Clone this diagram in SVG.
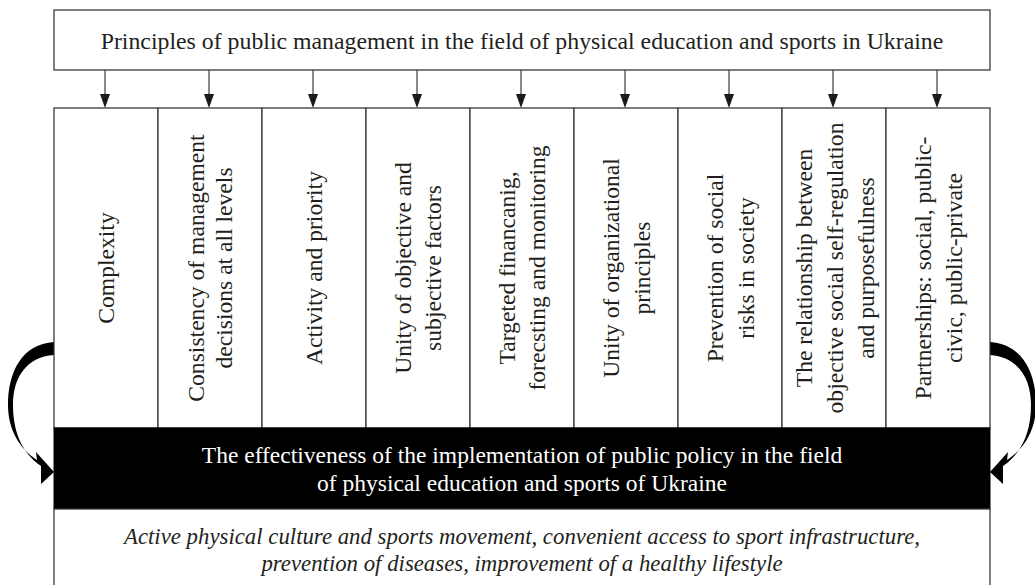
<svg xmlns="http://www.w3.org/2000/svg" width="1035" height="585" viewBox="0 0 1035 585">
<defs>
<style>
.box{fill:#fff;stroke:#3a3a3a;stroke-width:1.3}
.t{font-family:"Liberation Serif","Times New Roman",serif;fill:#231f20}
.title{font-size:23.8px;text-anchor:middle}
.col{font-size:23.6px;text-anchor:middle}
.w{font-family:"Liberation Serif","Times New Roman",serif;fill:#fff;font-size:23.5px;text-anchor:middle}
.it{font-family:"Liberation Serif","Times New Roman",serif;fill:#231f20;font-size:22.8px;font-style:italic;text-anchor:middle}
.conn{stroke:#3a3a3a;stroke-width:1.2;fill:none}
.head{fill:#1a1a1a}
.curve{fill:#000}
</style>
<path id="ah" d="M-5,0 L5,0 L0,14 Z"/>
</defs>
<rect width="1035" height="585" fill="#fff"/>

<g id="top">
<rect class="box" x="54" y="10" width="936" height="60"/>
<text class="t title" x="522" y="49">Principles of public management in the field of physical education and sports in Ukraine</text>
</g>

<g id="connectors">
<line class="conn" x1="105" y1="70" x2="105" y2="95"/><use href="#ah" class="head" x="105" y="94"/>
<line class="conn" x1="209" y1="70" x2="209" y2="95"/><use href="#ah" class="head" x="209" y="94"/>
<line class="conn" x1="313" y1="70" x2="313" y2="95"/><use href="#ah" class="head" x="313" y="94"/>
<line class="conn" x1="417" y1="70" x2="417" y2="95"/><use href="#ah" class="head" x="417" y="94"/>
<line class="conn" x1="521" y1="70" x2="521" y2="95"/><use href="#ah" class="head" x="521" y="94"/>
<line class="conn" x1="625" y1="70" x2="625" y2="95"/><use href="#ah" class="head" x="625" y="94"/>
<line class="conn" x1="729" y1="70" x2="729" y2="95"/><use href="#ah" class="head" x="729" y="94"/>
<line class="conn" x1="833" y1="70" x2="833" y2="95"/><use href="#ah" class="head" x="833" y="94"/>
<line class="conn" x1="937" y1="70" x2="937" y2="95"/><use href="#ah" class="head" x="937" y="94"/>
<path class="curve" d="M54,342 C22,344 8,372 8,405 C8,430 20,449 37,460 L36,452 L54,472 L41,484 L41,466 C22,453 13,432 13,405 C13,378 26,357 54,355 Z"/>
<path class="curve" d="M990,342 C1022,344 1036,372 1036,405 C1036,430 1024,449 1007,460 L1008,452 L990,472 L1003,484 L1003,466 C1022,453 1031,432 1031,405 C1031,378 1018,357 990,355 Z"/>
</g>

<g id="col1"><rect class="box" x="54" y="108" width="104" height="320"/>
<text class="t col" transform="translate(106,268) rotate(-90)" y="8">Complexity</text></g>
<g id="col2"><rect class="box" x="158" y="108" width="104" height="320"/>
<text class="t col" transform="translate(210,268) rotate(-90)"><tspan x="0" y="-6">Consistency of management</tspan><tspan x="0" y="22">decisions at all levels</tspan></text></g>
<g id="col3"><rect class="box" x="262" y="108" width="104" height="320"/>
<text class="t col" transform="translate(314,268) rotate(-90)" y="8">Activity and priority</text></g>
<g id="col4"><rect class="box" x="366" y="108" width="104" height="320"/>
<text class="t col" transform="translate(418,268) rotate(-90)"><tspan x="0" y="-7">Unity of objective and</tspan><tspan x="0" y="23">subjective factors</tspan></text></g>
<g id="col5"><rect class="box" x="470" y="108" width="104" height="320"/>
<text class="t col" transform="translate(522,268) rotate(-90)"><tspan x="0" y="-7">Targeted financanig,</tspan><tspan x="0" y="23">forecsting and monitoring</tspan></text></g>
<g id="col6"><rect class="box" x="574" y="108" width="104" height="320"/>
<text class="t col" transform="translate(626,268) rotate(-90)"><tspan x="0" y="-7">Unity of organizational</tspan><tspan x="0" y="24">principles</tspan></text></g>
<g id="col7"><rect class="box" x="678" y="108" width="104" height="320"/>
<text class="t col" transform="translate(730,268) rotate(-90)"><tspan x="0" y="-7">Prevention of social</tspan><tspan x="0" y="24">risks in society</tspan></text></g>
<g id="col8"><rect class="box" x="782" y="108" width="104" height="320"/>
<text class="t col" transform="translate(834,268) rotate(-90)"><tspan x="0" y="-22">The relationship between</tspan><tspan x="0" y="9">objective social self-regulation</tspan><tspan x="0" y="40">and purposefulness</tspan></text></g>
<g id="col9"><rect class="box" x="886" y="108" width="104" height="320"/>
<text class="t col" transform="translate(938,268) rotate(-90)"><tspan x="0" y="-7">Partnerships: social, public-</tspan><tspan x="0" y="24">civic, public-private</tspan></text></g>

<g id="result">
<rect x="54" y="428" width="936" height="81" fill="#000" stroke="#000" stroke-width="1"/>
<text class="w" x="522" y="463">The effectiveness of the implementation of public policy in the field</text>
<text class="w" x="522" y="491">of physical education and sports of Ukraine</text>
</g>

<g id="outcome">
<rect class="box" x="54" y="509" width="936" height="90"/>
<text class="it" x="522" y="544">Active physical culture and sports movement, convenient access to sport infrastructure,</text>
<text class="it" x="522" y="571">prevention of diseases, improvement of a healthy lifestyle</text>
</g>
</svg>
